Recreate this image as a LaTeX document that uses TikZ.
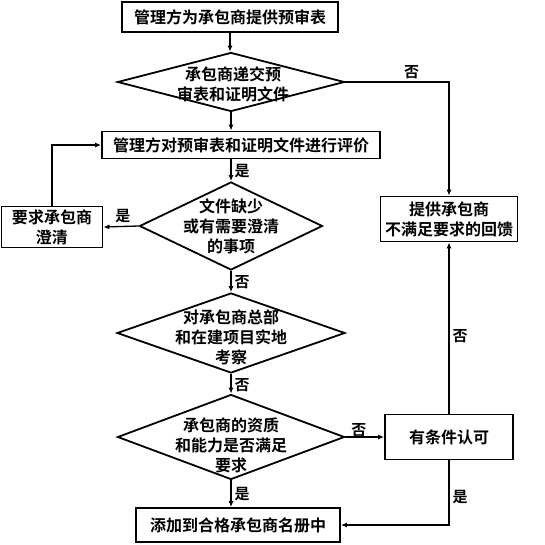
\documentclass[tikz,border=0pt]{standalone}
\usepackage{fontspec}
\setmainfont{Noto Sans CJK SC}[BoldFont={Noto Sans CJK SC Bold}]
\usetikzlibrary{shapes.geometric, arrows.meta, positioning}

\begin{document}
\begin{tikzpicture}[
        x=1pt, y=-1pt,
        box/.style={draw, rectangle, line width=1.8pt, inner sep=0pt, font=\bfseries\fontsize{16}{20}\selectfont, align=center},
        dec/.style={draw, diamond, line width=1.8pt, inner sep=0pt},
        txt/.style={align=center, inner sep=0pt, font=\bfseries\fontsize{16}{20}\selectfont},
        arrow/.style={-{Latex[length=6pt, width=5pt]}, line width=1.3pt},
        lbl/.style={font=\bfseries\fontsize{15}{18}\selectfont, inner sep=3pt}
    ]
    \useasboundingbox (0,0) rectangle (545,544);
    % Nodes
    \node[box, minimum width=216pt, minimum height=30pt] (supply) at (230,17) {管理方为承包商提供预审表};
    \node[dec, minimum width=227pt, minimum height=59pt] (submit) at (231,82) {};
    \node[txt] (submit_t) at (233,84) {承包商递交预\\审表和证明文件};
    \node[box, minimum width=278pt, minimum height=27pt] (review) at (241,145) {管理方对预审表和证明文件进行评价};
    \node[dec, minimum width=183pt, minimum height=88pt] (lack) at (231,226) {};
    \node[txt] (lack_t) at (231,226) {文件缺少\\或有需要澄清\\的事项};
    \node[box, minimum width=101pt, minimum height=41pt] (clarify) at (52,227) {要求承包商\\澄清};
    \node[dec, minimum width=228pt, minimum height=80pt] (visit) at (231,333) {};
    \node[txt] (visit_t) at (231,337) {对承包商总部\\和在建项目实地\\考察};
    \node[dec, minimum width=227pt, minimum height=85pt] (qualify) at (231,437) {};
    \node[txt] (qualify_t) at (231,445) {承包商的资质\\和能力是否满足\\要求};
    \node[box, minimum width=137pt, minimum height=45pt] (feedback) at (449,219) {提供承包商\\不满足要求的回馈};
    \node[box, minimum width=128pt, minimum height=45pt] (cond) at (449,437) {有条件认可};
    \node[box, minimum width=204pt, minimum height=34pt] (add) at (238,525) {添加到合格承包商名册中};

    % Arrows
    \draw[arrow] (supply) -- (supply |- submit.north);
    \draw[arrow] (submit) -- (submit |- review.north);
    \draw[arrow] (submit.east) -| node[lbl, pos=0.32, above] (no_submit) {否} (feedback.north);
    \draw[arrow] (review.south -| lack) -- node[lbl, pos=0.55, right] (yes_review) {是} (lack.north);
    \draw[arrow] (lack.west) -- node[lbl, pos=0.45, above] (yes_lack) {是} (clarify.east);
    \draw[arrow] (clarify.north) |- (review.west);
    \draw[arrow] (lack.south) -- node[lbl, pos=0.55, right] (no_lack) {否} (visit.north);
    \draw[arrow] (visit.south) -- node[lbl, pos=0.55, right] (no_visit) {否} (qualify.north);
    \draw[arrow] (qualify.east) -- node[lbl, pos=0.35, above, inner sep=0pt] (no_qualify) {否} (cond.west);
    \draw[arrow] (qualify.south) -- node[lbl, pos=0.5, right] (yes_qualify) {是} (qualify |- add.north);
    \draw[arrow] (cond.north) -- node[lbl, pos=0.45, right] (no_cond) {否} (feedback.south);
    \draw[arrow] (cond.south) |- node[lbl, pos=0.28, right] (yes_cond) {是} (add.east);
\end{tikzpicture}
\end{document}
